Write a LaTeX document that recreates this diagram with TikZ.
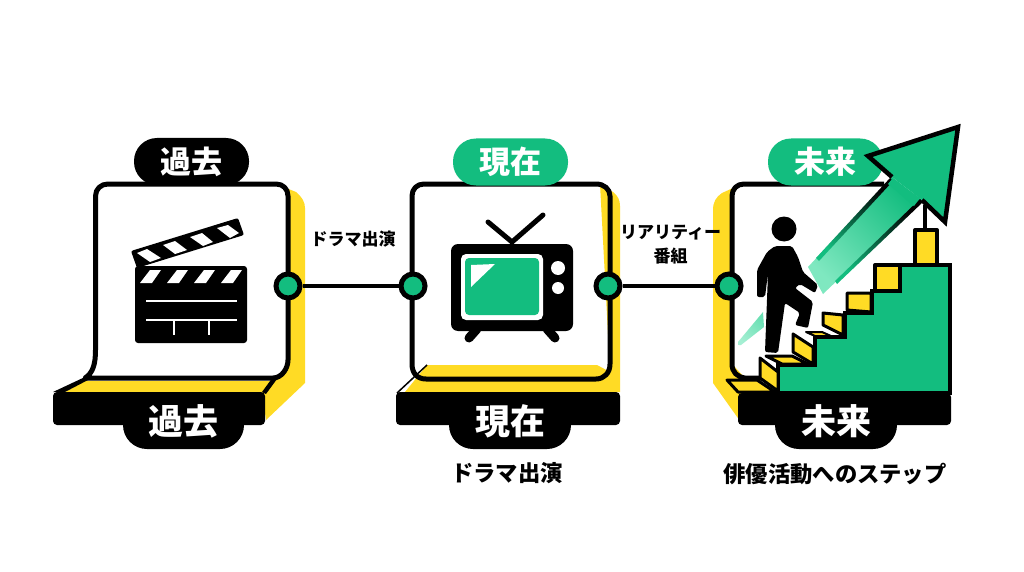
\documentclass[tikz,border=0pt]{standalone}
\usepackage{fontspec}
\setmainfont{Noto Sans CJK JP}
\usetikzlibrary{calc}
\definecolor{grn}{HTML}{13BD7F}
\definecolor{grnlt}{HTML}{7FE8C0}
\definecolor{ylw}{HTML}{FFDB25}
\tikzset{
  x=1pt,y=-1pt,
  frameline/.style={draw=black,line width=5pt,line join=round},
  base/.style={fill=black,rounded corners=4pt},
  yell/.style={fill=ylw},
  pillbk/.style={fill=black,text=white,rounded corners=23pt,minimum height=47pt,inner sep=0pt,font=\bfseries\fontsize{31}{31}\selectfont},
  pillgr/.style={pillbk,fill=grn},
  pillbot/.style={fill=black,text=white,rounded corners=24pt,minimum height=56pt,inner sep=0pt,font=\bfseries\fontsize{35}{35}\selectfont},
  joint/.style={circle,draw=black,fill=grn,line width=5pt,minimum size=24pt,inner sep=0pt},
  link/.style={draw=black,line width=4pt},
  caption/.style={inner sep=0pt,font=\bfseries\fontsize{22.3}{23}\selectfont},
  small/.style={inner sep=0pt,align=center,font=\bfseries\fontsize{17}{24}\selectfont},
  step line/.style={draw=black,line width=3pt,line join=round,fill=ylw},
}
\begin{document}
\begin{tikzpicture}
\useasboundingbox (0,0) rectangle (1024,572);
\fill[white] (0,0) rectangle (1024,572);
% ---------- panel 1
\fill[yell] (276,184) -- (296,192) .. controls (302,197) and (305,202) .. (305,208) -- (305,383) -- (266,420) -- (262,392) -- (272,378) -- cycle;
\fill[yell] (65,392) -- (85,381) -- (273,381) -- (264,392) -- cycle;
\draw[frameline,fill=white] (85,378) .. controls (93,373) and (95.5,364) .. (95.5,350) -- (95.5,196) .. controls (95.5,189) and (101,184) .. (108,184) -- (276,184) .. controls (283,184) and (288,189) .. (288,196) -- (288,360) .. controls (288,368) and (282,378) .. (273,378) -- cycle;
\fill (53,392) -- (85,377) -- (88,380) -- (65,392) -- cycle;
\fill (273,377) -- (277,379) -- (266,394) -- (262,392) -- cycle;
\fill[base] (53,392) rectangle (265,425);
\node[pillbot,minimum width=121pt] (pb1) at (183.5,421) {過去};
\node[pillbk,minimum width=115pt] (pt1) at (191.5,161.5) {過去};
% clapper
\fill[rounded corners=2pt] (131,251) -- (238,218) -- (244,235) -- (137,268) -- cycle;
\fill[rounded corners=3pt] (135,266) rectangle (247,343);
\foreach \d in {0,27,54,81}
  \fill[white] (140+\d,283) -- (152+\d,283) -- (161+\d,270) -- (150+\d,270) -- cycle;
\fill[white] (137,253) -- (147,249) -- (161,258) -- (150,262) -- cycle;
\fill[white] (163,245) -- (175,241) -- (187,250) -- (175,254) -- cycle;
\fill[white] (190,237) -- (202,233) -- (213,242) -- (203,246) -- cycle;
\fill[white] (217,228) -- (228,225) -- (239,233) -- (230,238) -- cycle;
\draw[white,line width=2pt] (146,301) -- (237,301) (146,320) -- (237,320) (174,320) -- (174,335) (209,320) -- (209,335);
% ---------- panel 2
\fill[yell] (600,184) -- (613,192) .. controls (618,196) and (620,200) .. (620,206) -- (620,392) -- (405,392) -- (427,365) -- (597,365) -- (610,372) -- cycle;
\draw[frameline] (412,196) .. controls (412,189) and (417,184) .. (424,184) -- (596,184) .. controls (604,184) and (610,189) .. (610,196) -- (610,364) .. controls (610,373) and (604,379) .. (596,379) -- (426,379) .. controls (417,379) and (412,373) .. (412,364) -- cycle;
\draw[black,line width=1.5pt] (427,365) -- (397,393);
\fill[base] (396,392) rectangle (620,425);
\node[pillbot,minimum width=122pt] (pb2) at (510,421) {現在};
\node[pillgr,minimum width=115pt] (pt2) at (510.5,162) {現在};
% tv
\draw[black,line width=5pt,line cap=round] (488,222) -- (512,242) -- (543,215);
\fill[rounded corners=7pt] (451,244) rectangle (573,331);
\draw[black,line width=9pt,line cap=round] (477,329) -- (469,338);
\draw[black,line width=9pt,line cap=round] (547,329) -- (555,338);
\fill[white,rounded corners=5pt] (461,254) rectangle (543,320);
\fill[grn,rounded corners=4pt] (465,258) rectangle (539,315);
\fill[white] (471,265) -- (495,264) -- (471,287) -- cycle;
\fill[white] (558,268) circle (7);
\fill[white] (558,288) circle (6);
% ---------- panel 3
\fill[yell] (733,188) -- (722,193) .. controls (716,197) and (713,202) .. (713,210) -- (713,383) -- (740,421) -- (745,378) -- (733,365) -- cycle;
\draw[frameline] (762,378) -- (745,378) .. controls (737,377) and (732,372) .. (732,364) -- (732,196) .. controls (732,189) and (737,184) .. (744,184) -- (884,184);
\fill[base] (738,393) rectangle (951,425);
\draw[draw=black,line width=4pt,fill=grn,line join=miter] (778,393) -- (778,365) -- (815,365) -- (815,337) -- (845,337) -- (845,313) -- (872,313) -- (872,291) -- (900,291) -- (900,265) -- (950,265) -- (950,393) -- cycle;
\node[pillbot,minimum width=122pt] (pb3) at (836,421) {未来};
\node[pillgr,minimum width=115pt] (pt3) at (825.5,162) {未来};
% tower
\draw[black,line width=4pt] (925,205) -- (925,230);
\draw[step line,line width=4pt] (915,230) rectangle (937,265);
% stairs
\draw[step line] (727,380) -- (757,380) -- (775,392) -- (738,392) -- cycle;
\draw[step line] (760,358) -- (778,372) -- (778,391) -- (760,378) -- cycle;
\draw[step line] (766,356) -- (792,356) -- (808,364) -- (782,364) -- cycle;
\draw[step line] (793,334) -- (813,347) -- (813,364) -- (793,352) -- cycle;
\draw[step line,line width=2pt] (806,332) -- (822,332) -- (831,336) -- (815,336) -- cycle;
\draw[step line] (823,313) -- (843,315) -- (843,335) -- (823,325) -- cycle;
\draw[step line] (847,293) -- (871,293) -- (871,312) -- (847,310) -- cycle;
\draw[step line,line width=4pt] (875,265) rectangle (900,291);
% swoosh
\shade[left color=grnlt!70!white,right color=grnlt!80!grn,shading angle=135] (738,342) -- (763,312) -- (764,327) -- (741,345) .. controls (738,346) and (737,344) .. (738,342) -- cycle;
% arrow
\shade[left color=grnlt,middle color=grn,right color=grn,shading angle=135] (808,267) -- (892,177) -- (922,200) -- (823,294) -- cycle;
\shade[left color=grn,middle color=black!80!grn,right color=black,shading angle=135] (816,258) -- (890,178) -- (893,181) -- (819,261) -- cycle;
\shade[left color=grn,middle color=black!80!grn,right color=black,shading angle=135] (835,281) -- (920,199) -- (923,202) -- (837,284) -- cycle;
\draw[black,line width=4.5pt,fill=grn,line join=miter] (892,177) -- (868,156) -- (958,127) -- (945,222) -- (922,200);
\fill[grn] (892,179) -- (920,198) -- (914,206) -- (888,184) -- cycle;
% person
\fill (784,229) circle (12.5);
\fill[rounded corners=2pt] (767,252) -- (775,246) -- (792,246) -- (798,257) -- (803,272) -- (818,285) -- (815,293) -- (800,284) -- (795,288) -- (813,302) -- (808,328) -- (795,325) -- (800,313) -- (785,303) -- (778,353) -- (765,352) -- (768,273) -- (765,297) -- (757,297) -- (757,270) -- cycle;
% ---------- joints and links
\node[joint] (j1) at (288,286) {};
\node[joint] (j2) at (413,286) {};
\node[joint] (j3) at (608,286) {};
\node[joint] (j4) at (729,286) {};
\draw[link] (j1) -- (j2);
\draw[link] (j3) -- (j4);
% ---------- labels
\node[small] (l1) at (353,239) {ドラマ出演};
\node[small] (l2) at (670.5,245) {リアリティー\\番組};
\node[caption] (c2) at (507,473) {ドラマ出演};
\node[caption] (c3) at (835,474) {俳優活動へのステップ};
\end{tikzpicture}
\end{document}
